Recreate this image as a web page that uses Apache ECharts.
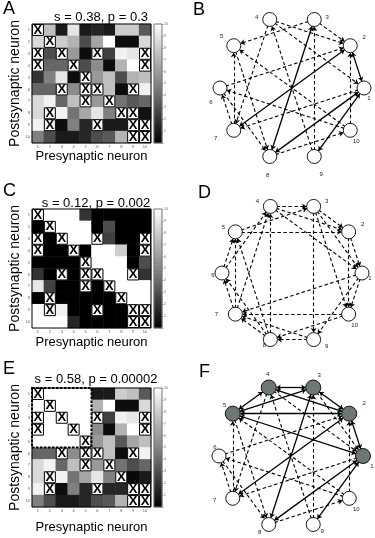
<!DOCTYPE html>
<html><head><meta charset="utf-8">
<script src="https://cdn.jsdelivr.net/npm/echarts@6/dist/echarts.min.js"></script>
<style>html,body{margin:0;padding:0;background:#fff}#c{width:375px;height:538px}</style>
</head><body><div id="c"></div>
<script>
const FONT = '"Liberation Sans", Arial, Helvetica, sans-serif';
const neurons = ['1','2','3','4','5','6','7','8','9','10'];
// rows = postsynaptic neuron, columns = presynaptic neuron; null = "X" (pair not tested)
const matA = [
  [null, 7.5, 1, 9, 1, 1.5, 1, 8, 8, 3.5],
  [8.5, null, 8, 7, 3, 6.5, 10, 0.5, 0.5, 8.5],
  [null, 3, null, 6, 0.5, null, 2.5, 9.5, 9, null],
  [null, 4, 4, null, 3, 5.5, 0.5, 7, 10, null],
  [2, 5, 9, 0.5, null, 6, 7.5, 3, 7, 7.5],
  [4, 4, null, 5.5, null, null, 7.5, 0.5, null, 9.5],
  [8.5, 9.5, 4, 7.5, null, 6, null, 4.5, 3.5, 4],
  [8.5, null, 9.5, 4.5, 6.5, 9, 5, null, null, 0.7],
  [9.5, null, 0.5, 5, 1.5, null, 1, 1, null, null],
  [5, 3, 1, 1, 1.5, 3, 3.5, 7, null, null]
];
const matC = [
  [null, 10, 10, 10, 2, 0, 0, 0, 0, 0],
  [0, null, 10, 10, 10, 0, 3, 0, 0, 0],
  [null, 0, null, 10, 10, null, 2.5, 0, 0, null],
  [null, 0, 0, null, 0, 10, 10, 8, 0, null],
  [0, 0, 0, 0, null, 10, 10, 10, 0, 3],
  [2, 0, null, 0, null, null, 10, 10, null, 2],
  [9, 2.5, 0, 0, null, 0, null, 10, 10, 10],
  [0, null, 0, 0, 0, 0, 0, null, 10, 10],
  [10, null, 9.5, 0, 0, null, 0, 0, null, null],
  [10, 10, 10, 1.5, 0, 0, 0, 0, null, null]
];
const matE = [
  [null, 10, 10, 10, 10, 1, 1, 8, 7.5, 3.5],
  [10, null, 10, 10, 10, 7, 10, 0.5, 0.5, 8.5],
  [null, 10, null, 10, 10, null, 2.5, 9.5, 9, null],
  [null, 10, 10, null, 10, 5.5, 0.5, 7, 10, null],
  [10, 10, 10, 10, null, 6, 7.5, 3.5, 6.5, 7.5],
  [4, 4, null, 5.5, null, null, 7.5, 0.5, null, 9.5],
  [8.5, 9.5, 4, 7.5, null, 6, null, 4.5, 3, 4],
  [8.5, null, 9.5, 4.5, 6.5, 9, 5, null, 0.3, 1],
  [9.5, null, 0.5, 5, 1.5, null, 1.5, 1.5, null, null],
  [5, 3, 1, 1, 1.5, 3, 3.5, 7, null, null]
];
const statsA = 's = 0.38, p = 0.3';
const statsC = 's = 0.12, p = 0.002';
const statsE = 's = 0.58, p = 0.00002';
const clusterE = ['1', '5'];          // dashed block, neurons 1..5
const colorbarMin = 0, colorbarMax = 10;

// network panels: node angle on the ring (degrees, counter-clockwise from the right)
const nodeAngle = [0, 36, 72, 108, 144, 180, 216, 252, 288, 324];
// directed connections [presynaptic, postsynaptic]; reciprocal pairs are drawn solid
const edgesB = [[2,1],[4,1],[8,1],[9,1],[1,2],[3,2],[4,2],[7,2],[10,2],[6,2],[8,3],[9,3],[9,4],[3,5],[7,5],[10,5],[7,6],[10,6],[1,7],[2,7],[4,7],[1,8],[3,8],[6,8],[5,8],[1,9],[8,10]];
const edgesD = [[2,1],[3,1],[4,1],[3,2],[4,2],[5,2],[4,3],[5,3],[6,4],[7,4],[8,4],[6,5],[7,5],[8,5],[7,6],[8,6],[1,7],[8,7],[9,7],[10,7],[9,8],[10,8],[1,9],[3,9],[1,10],[2,10],[3,10]];
const edgesF = [[2,1],[3,1],[4,1],[5,1],[1,2],[3,2],[4,2],[5,2],[2,3],[4,3],[5,3],[2,4],[3,4],[5,4],[1,5],[2,5],[3,5],[4,5],
  [8,1],[9,1],[7,2],[10,2],[6,2],[8,3],[9,3],[9,4],[7,5],[10,5],[7,6],[10,6],[1,7],[2,7],[4,7],[1,8],[3,8],[6,8],[5,8],[1,9],[8,10]];
const greyNodesF = [1, 2, 3, 4, 5];

// ---- layout / style ----
const labOffB = [[5,10],[14,-8],[13,-2],[-13,-2],[-12,-9],[-9,14],[-18,8],[-2,19],[7,18],[6,11]];
const labOffD = [[8,5],[14,-8],[13,-5],[-13,-5],[-12,-5],[-9,2],[-19,0],[-6,6],[13,7],[6,11]];
const labOffF = [[9,10],[15,-10],[6,-12],[-1,-13],[-8,-8],[-4,-9],[-18,2],[-9,8],[9,7],[7,11]];

const matPanels = [
  {m: matA, top: 24, stats: statsA, sx: 101, sy: 10.5, nameGap: 4},
  {m: matC, top: 209, stats: statsC, sx: 96, sy: 196.5, nameGap: 8},
  {m: matE, top: 388, stats: statsE, sx: 96, sy: 372.5, nameGap: 14, block: clusterE}
];
const netPanels = [
  {edges: edgesB, center: [292, 88], r: 72, grey: [], lab: labOffB},
  {edges: edgesD, center: [292, 273], r: 70, grey: [], lab: labOffD},
  {edges: edgesF, center: [291, 456], r: 72, grey: greyNodesF, lab: labOffF}
];
const letters = [['A',3,0],['B',193,1],['C',3,182],['D',198,184],['E',3,360],['F',199,363]];

const levels = [];
for (let i = 0; i < 60; i++) levels.push(String(colorbarMin + (i + 0.5) * (colorbarMax - colorbarMin) / 60));

const option = {animation: false, backgroundColor: '#fff', grid: [], xAxis: [], yAxis: [], polar: [], angleAxis: [], radiusAxis: [], series: [], graphic: []};
const heatIdx = [];

matPanels.forEach(p => {
  const gi = option.grid.length;
  option.grid.push({left: 32, top: p.top, width: 119, height: 119, show: true, borderColor: '#000', borderWidth: 1, z: 10});
  option.grid.push({left: 154, top: p.top, width: 8, height: 119, show: true, borderColor: '#777', borderWidth: 1, z: 10});
  const xi = option.xAxis.length;
  option.xAxis.push({gridIndex: gi, type: 'category', data: neurons, axisLine: {show: false}, axisTick: {show: false},
    axisLabel: {fontSize: 4, color: '#555', margin: 2, fontFamily: FONT},
    name: 'Presynaptic neuron', nameLocation: 'middle', nameGap: p.nameGap,
    nameTextStyle: {fontSize: 13, color: '#000', fontFamily: FONT}});
  option.xAxis.push({gridIndex: gi + 1, type: 'category', data: ['cb'], show: false});
  const yi = option.yAxis.length;
  option.yAxis.push({gridIndex: gi, type: 'category', data: neurons, inverse: true, axisLine: {show: false}, axisTick: {show: false},
    axisLabel: {fontSize: 4, color: '#555', margin: 2, fontFamily: FONT},
    name: 'Postsynaptic neuron', nameLocation: 'middle', nameGap: 3, nameRotate: 90,
    nameTextStyle: {fontSize: 14, color: '#000', fontFamily: FONT}});
  option.yAxis.push({gridIndex: gi + 1, type: 'category', data: levels, show: false});
  option.yAxis.push({gridIndex: gi + 1, type: 'value', min: colorbarMin, max: colorbarMax, interval: 1, position: 'right',
    axisLine: {show: false}, splitLine: {show: false},
    axisTick: {show: true, length: 1.5, lineStyle: {color: '#777', width: 0.6}},
    axisLabel: {fontSize: 3.5, color: '#666', margin: 2, fontFamily: FONT, formatter: v => v === 0 ? '' : String(v)}});
  const cells = [], xs = [];
  p.m.forEach((row, r) => row.forEach((v, c) => { if (v === null) xs.push([c, r]); else cells.push([c, r, v]); }));
  heatIdx.push(option.series.length);
  option.series.push({type: 'heatmap', xAxisIndex: xi, yAxisIndex: yi, data: cells, itemStyle: {borderWidth: 0}, silent: true, emphasis: {disabled: true}});
  option.series.push({type: 'scatter', xAxisIndex: xi, yAxisIndex: yi, data: xs, symbol: 'rect', symbolSize: 11,
    itemStyle: {color: '#fff', borderColor: '#000', borderWidth: 1, opacity: 1}, silent: true, z: 4,
    label: {show: true, position: 'inside', formatter: 'X', fontSize: 13, fontWeight: 'bold', color: '#000', fontFamily: FONT}});
  heatIdx.push(option.series.length);
  option.series.push({type: 'heatmap', xAxisIndex: xi + 1, yAxisIndex: yi + 1, data: levels.map((l, i) => [0, i, +l]), silent: true, emphasis: {disabled: true}});
  if (p.block) {
    const a = neurons.indexOf(p.block[0]), b = neurons.indexOf(p.block[1]);
    option.series.push({type: 'custom', xAxisIndex: xi, yAxisIndex: yi, z: 6, silent: true, data: [[a, a, b, b]],
      renderItem: (params, api) => {
        const p0 = api.coord([api.value(0), api.value(1)]);
        const p1 = api.coord([api.value(2), api.value(3)]);
        const s = api.size([1, 1]);
        return {type: 'rect', shape: {x: p0[0] - s[0] / 2, y: p0[1] - s[1] / 2, width: p1[0] - p0[0] + s[0], height: p1[1] - p0[1] + s[1]},
          style: {fill: 'none', stroke: '#000', lineWidth: 2, lineDash: [2.5, 1.5]}};
      }});
  }
  option.graphic.push({type: 'text', x: p.sx, y: p.sy, style: {text: p.stats, fontSize: 13, fontFamily: FONT, fill: '#000', align: 'center', verticalAlign: 'top'}});
});

option.visualMap = [{type: 'continuous', show: false, min: colorbarMin, max: colorbarMax, dimension: 2, seriesIndex: heatIdx, inRange: {color: ['#000000', '#ffffff']}}];

netPanels.forEach((g, k) => {
  option.polar.push({center: g.center, radius: [0, g.r]});
  option.angleAxis.push({polarIndex: k, type: 'value', min: 0, max: 360, startAngle: 0, clockwise: false, show: false});
  option.radiusAxis.push({polarIndex: k, type: 'value', min: 0, max: 1, show: false});
  const set = new Set(g.edges.map(e => e[0] + '-' + e[1]));
  const links = [];
  g.edges.forEach(([s, t]) => {
    const recip = set.has(t + '-' + s);
    if (recip && s > t) return;
    links.push({source: String(s), target: String(t), symbol: recip ? ['arrow', 'arrow'] : ['none', 'arrow'],
      lineStyle: recip ? {type: 'solid', width: 1.3} : {type: [3.5, 2.5], width: 1.1}});
  });
  const nodes = neurons.map((n, i) => {
    const grey = g.grey.includes(i + 1);
    return {name: n, value: [1, nodeAngle[i]], symbolSize: grey ? 15 : 14,
      itemStyle: {color: grey ? '#6e7774' : '#fff'}, label: {offset: g.lab[i]}};
  });
  option.series.push({type: 'graph', coordinateSystem: 'polar', polarIndex: k, layout: 'none', data: nodes, links,
    symbol: 'circle', itemStyle: {borderColor: '#000', borderWidth: 0.9},
    label: {show: true, position: 'inside', formatter: '{b}', fontSize: 6, color: '#222', fontFamily: FONT},
    edgeSymbolSize: [4.5, 4.5], lineStyle: {color: '#000', opacity: 1, curveness: 0},
    emphasis: {disabled: true}, silent: true, z: 3});
});

letters.forEach(([t, x, y]) => option.graphic.push({type: 'text', x, y, style: {text: t, fontSize: 18, fontFamily: FONT, fill: '#000', verticalAlign: 'top'}}));

const chart = echarts.init(document.getElementById('c'), null, {renderer: 'canvas'});
chart.setOption(option);
</script></body></html>
